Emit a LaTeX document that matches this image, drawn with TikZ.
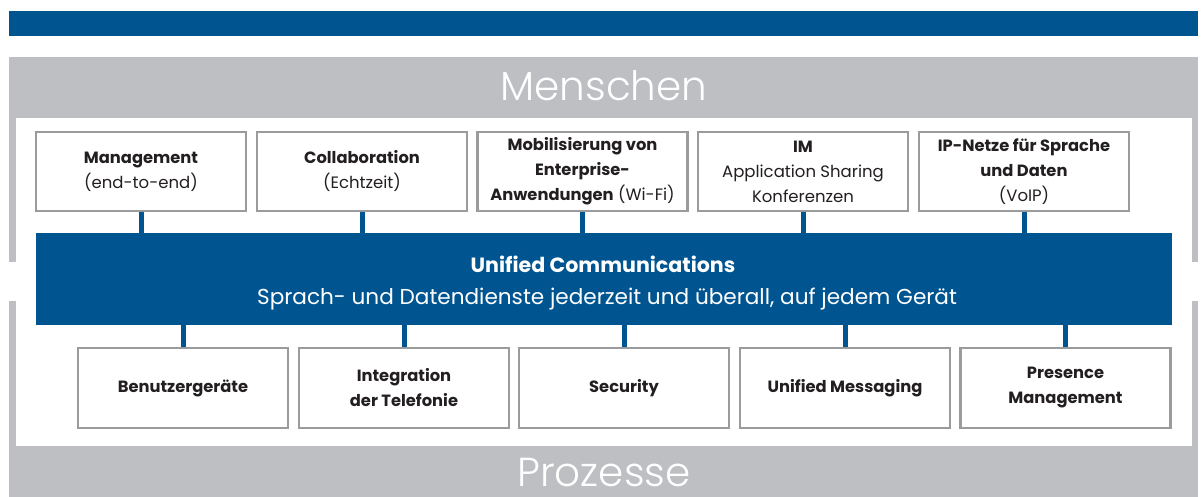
\documentclass[tikz,border=0pt]{standalone}
\usepackage{fontspec}
\setmainfont{Poppins}
\newfontfamily\lightfont{Poppins Light}
\definecolor{ucblue}{RGB}{0,85,145}
\definecolor{bandgray}{RGB}{190,191,195}
\definecolor{boxline}{RGB}{155,155,157}
\definecolor{ink}{RGB}{35,31,32}
% bold part of a box label
\newcommand{\bx}[1]{{\fontsize{16.3}{25}\selectfont\bfseries #1}}
\tikzset{
  box/.style={draw=boxline, line width=2.4pt, fill=white, rectangle,
    minimum width=210pt, inner sep=0pt, align=center, text=ink,
    font=\fontsize{16.5}{25}\selectfont},
  topbox/.style={box, minimum height=79pt},
  botbox/.style={box, minimum height=80pt},
  link/.style={draw=ucblue, line width=5pt},
  title/.style={text=white, font=\lightfont\fontsize{40.5}{46}\selectfont, anchor=base, inner sep=0pt},
}
\begin{document}
\begin{tikzpicture}[x=1pt, y=-1pt]
\useasboundingbox (0,0) rectangle (1202,497);
% header bar
\fill[ucblue] (9,11) rectangle (1198,36);
% grey frame with white interior and side openings
\fill[bandgray] (9,57) rectangle (1198,497);
\fill[white] (16,118) rectangle (1192,446);
\fill[white] (8,262) rectangle (17,301);
\fill[white] (1191,262) rectangle (1199,301);
\node[title] (menschen) at (604,101) {Menschen};
\node[title] (prozesse) at (604,486) {Prozesse};
% central band
\node[fill=ucblue, minimum width=1136pt, minimum height=92pt, inner sep=0pt] (uc) at (604,279) {};
\node[anchor=base, text=white, inner sep=0pt, font=\bfseries\fontsize{20.6}{24}\selectfont] (uctitle) at (603,272) {Unified Communications};
\node[anchor=base, text=white, inner sep=0pt, font=\fontsize{21.6}{26}\selectfont] (ucsub) at (607,304) {Sprach- und Datendienste jederzeit und überall, auf jedem Gerät};
% upper row
\node[topbox] (t1) at (141,171.5) {\bx{Management}\\(end-to-end)};
\node[topbox] (t2) at (362,171.5) {\bx{Collaboration}\\(Echtzeit)};
\node[topbox] (t3) at (582.5,171.5) {\bx{Mobilisierung von}\\\bx{Enterprise-}\\\bx{Anwendungen} (Wi-Fi)};
\node[topbox] (t4) at (803,171.5) {\bx{IM}\\Application Sharing\\Konferenzen};
\node[topbox] (t5) at (1024,171.5) {\bx{IP-Netze für Sprache}\\\bx{und Daten}\\(VoIP)};
% lower row
\node[botbox] (b1) at (183,388) {\bx{Benutzergeräte}};
\node[botbox] (b2) at (404,388) {\bx{Integration}\\\bx{der Telefonie}};
\node[botbox] (b3) at (624,388) {\bx{Security}};
\node[botbox] (b4) at (845,388) {\bx{Unified Messaging}};
\node[botbox] (b5) at (1065.5,388) {\bx{Presence}\\\bx{Management}};
% connectors
\foreach \n in {t1,t2,t3,t4,t5} \draw[link] (\n.south) -- (\n.south |- uc.north);
\foreach \n in {b1,b2,b3,b4,b5} \draw[link] (\n.north) -- (\n.north |- uc.south);
\end{tikzpicture}
\end{document}
